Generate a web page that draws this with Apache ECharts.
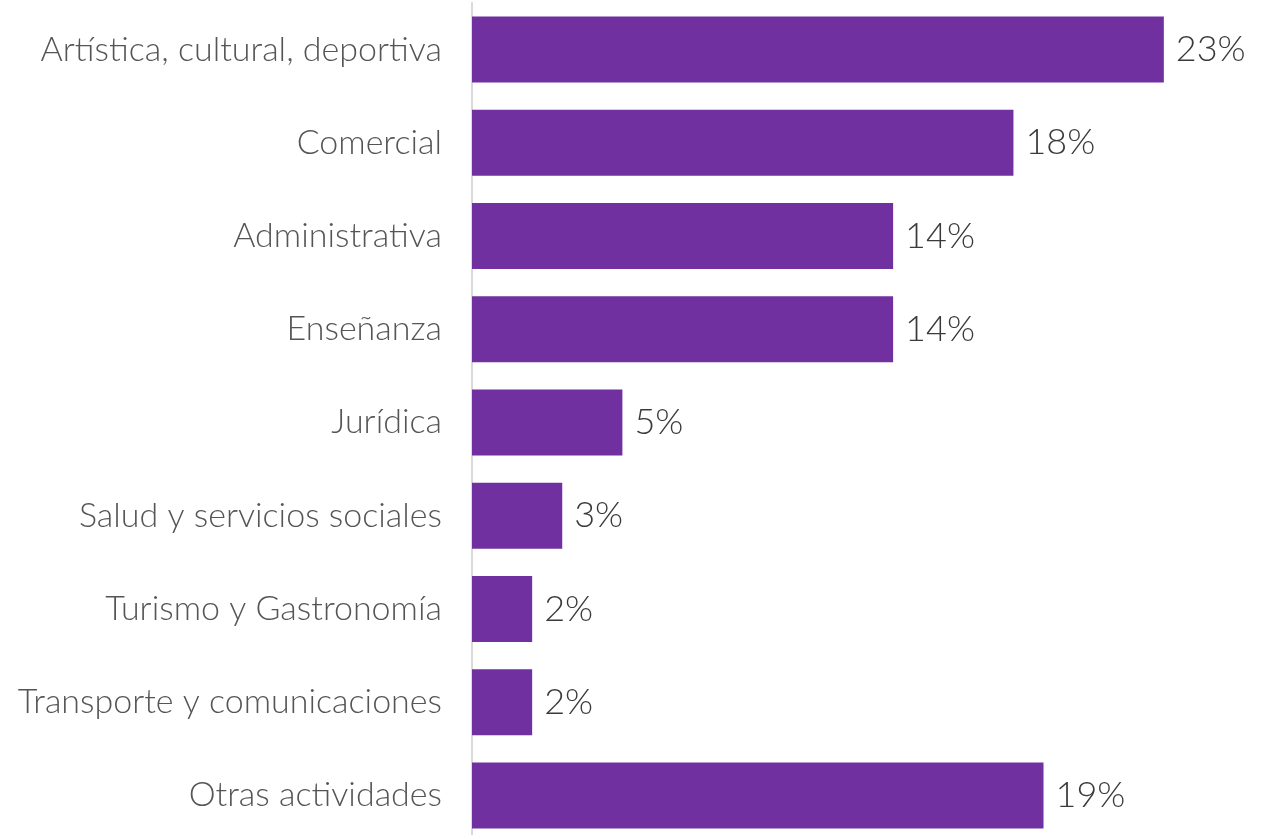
<!DOCTYPE html>
<html>
<head>
<meta charset="utf-8">
<script src="https://cdn.jsdelivr.net/npm/echarts@6/dist/echarts.min.js"></script>
<style>html,body{margin:0;padding:0;background:#fff;}#c{width:1268px;height:835px;}</style>
</head>
<body>
<div id="c"></div>
<script>
const categories = ["Artística, cultural, deportiva","Comercial","Administrativa","Enseñanza","Jurídica","Salud y servicios sociales","Turismo y Gastronomía","Transporte y comunicaciones","Otras actividades"];
const values = [23, 18, 14, 14, 5, 3, 2, 2, 19];

const chart = echarts.init(document.getElementById('c'));
chart.setOption({
  animation: false,
  grid: { left: 472, right: 44, top: 3, height: 839, containLabel: false, outerBoundsMode: 'none' },
  xAxis: { type: 'value', min: 0, max: 25, show: false },
  yAxis: {
    type: 'category', data: categories, inverse: true,
    axisLine: { show: true, lineStyle: { color: '#d9d9d9', width: 2 } },
    axisTick: { show: false },
    axisLabel: { color: '#555555', fontSize: 34, fontFamily: 'Lato', fontWeight: 300, margin: 30 }
  },
  series: [{
    type: 'bar', data: values, barWidth: 66,
    itemStyle: { color: '#7030A0' },
    label: { show: true, position: 'right', distance: 12, formatter: '{c}%', color: '#3a3a3a', fontSize: 36, fontFamily: 'Lato', fontWeight: 300 }
  }]
});
</script>
</body>
</html>
